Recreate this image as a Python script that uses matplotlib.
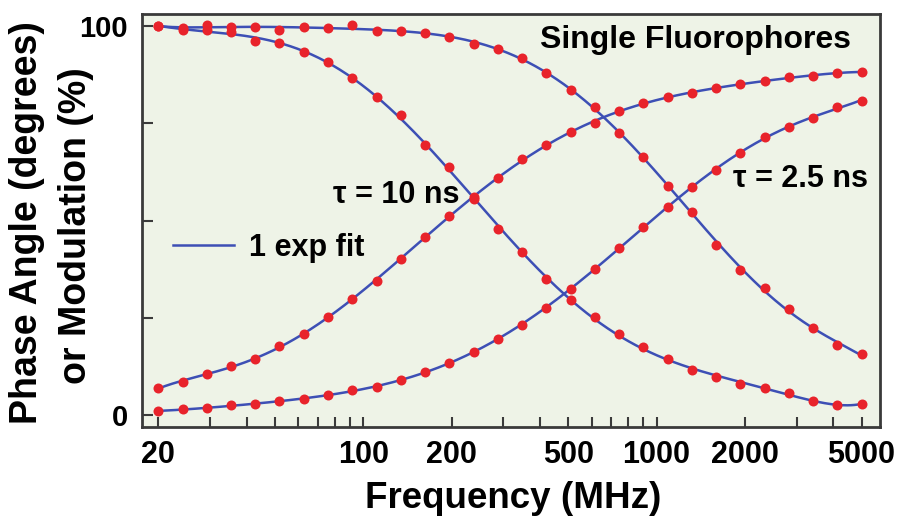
import numpy as np
import matplotlib
matplotlib.use("Agg")
import matplotlib.pyplot as plt
from matplotlib.ticker import FixedLocator, FixedFormatter, NullFormatter

# ---------------- data ----------------
freq_mhz = [20, 24.2, 29.3, 35.4, 42.8, 51.8, 62.7, 75.8, 91.7, 111, 134, 162,
            196, 238, 287, 348, 421, 509, 616, 745, 901, 1090, 1319, 1595,
            1930, 2334, 2824, 3416, 4132, 5000]

mod_10ns = [100.0, 99.0, 99.1, 98.4, 96.2, 95.7, 93.2, 90.7, 86.7, 81.8, 77.1,
            69.4, 63.8, 55.6, 47.9, 41.8, 35.0, 29.5, 25.1, 20.7, 17.6, 14.3,
            11.6, 9.8, 8.1, 6.9, 5.7, 3.6, 2.6, 2.8]
phase_10ns = [7.0, 8.4, 10.5, 12.7, 14.4, 17.7, 20.7, 25.3, 29.8, 34.4, 40.2,
              45.7, 51.2, 56.0, 61.0, 65.7, 69.4, 72.7, 75.1, 78.2, 80.1, 81.8,
              82.9, 84.0, 85.0, 85.9, 87.0, 87.1, 87.8, 88.3]
mod_2p5ns = [100.0, 99.4, 100.3, 99.7, 99.7, 99.0, 99.8, 99.4, 100.3, 98.8,
             98.6, 98.3, 97.1, 95.5, 94.0, 91.9, 87.8, 83.5, 79.3, 72.6, 66.3,
             59.0, 52.2, 43.8, 37.4, 32.6, 27.3, 22.3, 18.0, 15.6]
phase_2p5ns = [1.0, 1.5, 1.7, 2.6, 2.8, 3.6, 4.0, 5.1, 6.4, 7.3, 9.0, 11.0, 13.4,
               16.3, 19.5, 23.1, 27.6, 32.5, 37.6, 42.9, 48.3, 53.5, 58.7, 63.1,
               67.4, 71.4, 74.0, 76.3, 79.3, 80.8]

x_tick_values = [20, 100, 200, 500, 1000, 2000, 5000]
x_tick_labels = ["20", "100", "200", "500", "1000", "2000", "5000"]
x_minor_values = [30, 40, 50, 60, 70, 80, 90, 300, 400, 600, 700, 800, 900,
                  3000, 4000]
y_tick_values = [0, 25, 50, 75, 100]
y_tick_labels = ["0", "", "", "", "100"]

# ---------------- style ----------------
plt.rcParams["font.family"] = ["Liberation Sans", "DejaVu Sans"]
plt.rcParams["font.weight"] = "bold"

BG = "#eef3e7"
RED = "#e8232b"
BLUE = "#3d4fb5"
FRAME = "#3a3a3a"

fig = plt.figure(figsize=(9.02, 5.18), dpi=100)
fig.patch.set_facecolor("white")
ax = fig.add_axes([0.1571, 0.1751, 0.8185, 0.7979])
ax.set_facecolor(BG)
ax.set_xscale("log")

logf = np.log10(freq_mhz)
fine = np.linspace(logf[0], logf[-1], 400)
series = [mod_10ns, phase_10ns, mod_2p5ns, phase_2p5ns]
for i, s in enumerate(series):
    coef = np.polyfit(logf, s, 7)
    ax.plot(10 ** fine, np.polyval(coef, fine), color=BLUE, lw=1.8,
            zorder=2, label="1 exp fit" if i == 0 else "_nolegend_")
    ax.plot(freq_mhz, s, "o", color=RED, ms=7.2, mec="none", zorder=3)

ax.set_xlim(17.56, 5777)
ax.set_ylim(-3.16, 103.1)

ax.xaxis.set_major_locator(FixedLocator(x_tick_values))
ax.xaxis.set_major_formatter(FixedFormatter(x_tick_labels))
ax.xaxis.set_minor_locator(FixedLocator(x_minor_values))
ax.xaxis.set_minor_formatter(NullFormatter())
ax.yaxis.set_major_locator(FixedLocator(y_tick_values))
ax.yaxis.set_major_formatter(FixedFormatter(y_tick_labels))
ax.yaxis.set_minor_locator(FixedLocator([]))

ax.tick_params(axis="x", which="both", direction="in", length=7, width=1.5,
               color=FRAME, pad=9, top=False)
ax.tick_params(axis="y", which="both", direction="in", length=8, width=1.5,
               color=FRAME, pad=10, right=False)
for lab in ax.get_xticklabels():
    lab.set_fontsize(22)
    lab.set_fontweight("bold")
for lab in ax.get_yticklabels():
    lab.set_fontsize(21)
    lab.set_fontweight("bold")

for sp in ax.spines.values():
    sp.set_color(FRAME)
    sp.set_linewidth(2)

ax.set_xlabel("Frequency (MHz)", fontsize=26.5, fontweight="bold")
ax.xaxis.set_label_coords(0.5036, -0.13)

# two-line y label: first line is the axis label, second a rotated text
ax.set_ylabel("Phase Angle (degrees)", fontsize=27, fontweight="bold",
              va="center", ha="center")
ax.yaxis.set_label_coords(-0.1547, 0.4943)
ax.text(-0.0890, 0.4871, "or Modulation (%)", transform=ax.transAxes,
        rotation=90, ha="center", va="center", fontsize=27,
        fontweight="bold")

ax.text(0.750, 0.917, "Single Fluorophores", transform=ax.transAxes,
        ha="center", va="baseline", fontsize=23, fontweight="bold")
ax.text(0.2591, 0.5434, "τ = 10 ns", transform=ax.transAxes,
        ha="left", va="baseline", fontsize=22, fontweight="bold")
ax.text(0.8015, 0.5807, "τ = 2.5 ns", transform=ax.transAxes,
        ha="left", va="baseline", fontsize=22, fontweight="bold")

leg = ax.legend(loc="center left", bbox_to_anchor=(0.0424, 0.4338),
                frameon=False, fontsize=22, handlelength=2.0,
                handletextpad=0.5, borderpad=0, borderaxespad=0)
for t in leg.get_texts():
    t.set_fontweight("bold")

fig.savefig("out.png", dpi=100, facecolor="white")
